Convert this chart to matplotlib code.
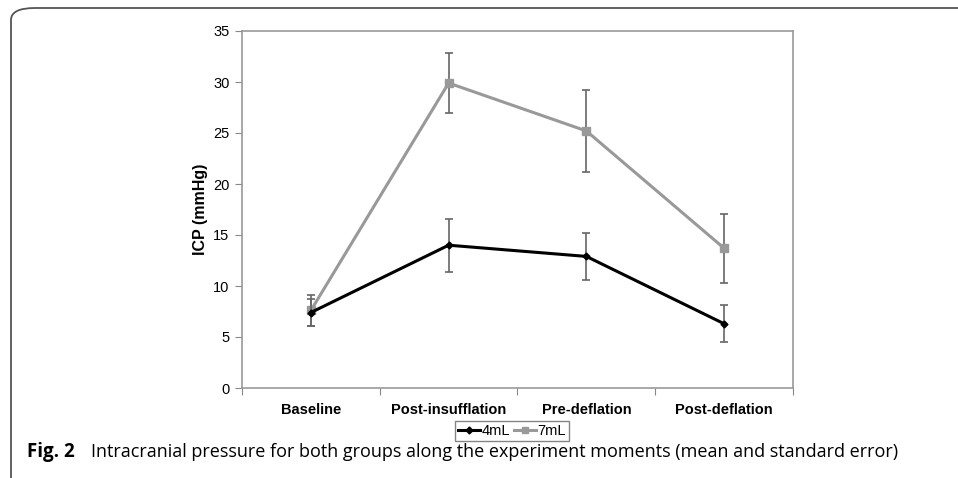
import matplotlib.pyplot as plt
from matplotlib.lines import Line2D
from matplotlib.patches import FancyBboxPatch

plt.rcParams['font.family'] = ['Liberation Sans', 'DejaVu Sans']

# data
moments = ['Baseline', 'Post-insufflation', 'Pre-deflation', 'Post-deflation']
icp_4ml = [7.4, 14.0, 12.9, 6.3]
err_4ml = [1.3, 2.6, 2.3, 1.8]
icp_7ml = [7.6, 29.9, 25.2, 13.7]
err_7ml = [1.5, 2.9, 4.0, 3.4]
caption = 'Intracranial pressure for both groups along the experiment moments (mean and standard error)'

fig = plt.figure(figsize=(9.58, 4.78), dpi=100)

# outer rounded frame (left + top only visible)
frame = FancyBboxPatch((11 / 958, -0.2), 1.2, 1.2 - 8 / 478,
                       boxstyle='round,pad=0,rounding_size=0.025',
                       transform=fig.transFigure, fill=False,
                       edgecolor='#555555', linewidth=1.3)
fig.patches.append(frame)

ax = fig.add_axes([242 / 958, 1 - 388 / 478, 551 / 958, 357 / 478])
x = range(len(moments))

ax.errorbar(x, icp_7ml, yerr=err_7ml, color='#999999', marker='s', markersize=6,
            linewidth=2.2, ecolor='#666666', elinewidth=1.2, capsize=3, capthick=1.2,
            zorder=3)
ax.errorbar(x, icp_4ml, yerr=err_4ml, color='black', marker='D', markersize=3.5,
            linewidth=2.2, ecolor='#666666', elinewidth=1.2, capsize=3, capthick=1.2,
            zorder=4)

ax.set_xlim(-0.5, len(moments) - 0.5)
ax.set_ylim(0, 35)
ax.set_yticks(range(0, 36, 5))
ax.set_xticks([i - 0.5 for i in range(len(moments) + 1)])
ax.set_xticklabels([])
ax.set_xticks(list(x), minor=True)
ax.set_xticklabels(moments, minor=True, fontsize=10.5, fontweight='bold')
ax.tick_params(axis='x', which='minor', length=0, pad=11)
ax.tick_params(axis='x', which='major', length=5, color='#888888', direction='out')
ax.tick_params(axis='y', length=5, color='#888888', labelsize=10.5, pad=4)

for s in ax.spines.values():
    s.set_color('#999999')
    s.set_linewidth(1.2)

ax.set_ylabel('ICP (mmHg)', fontsize=11.5, fontweight='bold', labelpad=4)

handles = [Line2D([], [], color='black', marker='D', markersize=3.5, linewidth=2.2),
           Line2D([], [], color='#999999', marker='s', markersize=5, linewidth=2.2)]
leg = ax.legend(handles, ['4mL', '7mL'], loc='upper center', bbox_to_anchor=(0.49, -0.093),
                ncol=2, fontsize=10.5, frameon=True, fancybox=False, edgecolor='#666666',
                handlelength=1.5, handletextpad=0.1, columnspacing=0.3,
                borderpad=0.2, borderaxespad=0)
leg.get_frame().set_linewidth(1.0)

fig.text(27 / 958, 1 - 452 / 478, 'Fig. 2', fontsize=13.5, fontweight='bold',
         family='Open Sans', va='center', ha='left')
fig.text(91 / 958, 1 - 452 / 478, caption, fontsize=13.0, family='Open Sans',
         va='center', ha='left')

fig.savefig('out.png', dpi=100)
